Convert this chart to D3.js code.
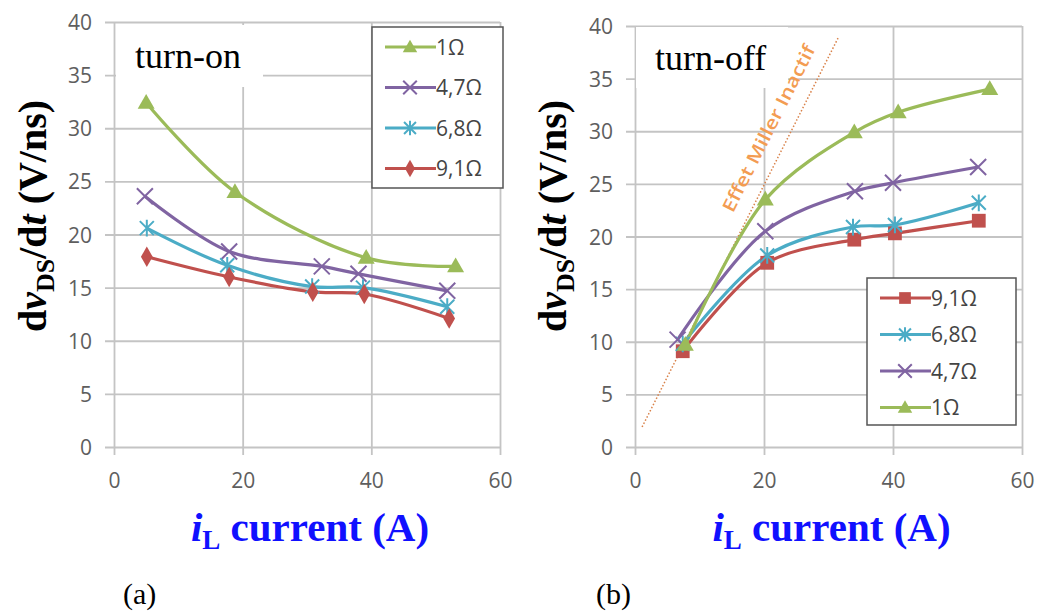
<!DOCTYPE html>
<html>
<head>
<meta charset="utf-8">
<script src="https://cdn.jsdelivr.net/npm/d3@7"></script>
<style>
  body { margin: 0; background: #fff; }
  svg { display: block; }
</style>
</head>
<body>
<svg id="fig" width="1040" height="612"></svg>
<script>
// values: [iL (A), dvDS/dt (V/ns)]
// (a) turn-on
const on1  = [[5.0, 32.4], [18.8, 24.0], [39.2, 17.8], [53.1, 17.0]];
const on47 = [[4.8, 23.6], [17.9, 18.4], [32.3, 17.0], [38.0, 16.3], [51.8, 14.7]];
const on68 = [[5.1, 20.6], [17.6, 17.1], [30.8, 15.1], [38.7, 15.0], [51.8, 13.2]];
const on91 = [[5.1, 17.9], [17.9, 16.0], [30.9, 14.6], [38.9, 14.4], [52.1, 12.1]];
// (b) turn-off
const off1  = [[7.8, 9.7], [20.2, 23.5], [34.0, 29.9], [40.8, 31.8], [55.0, 34.0]];
const off47 = [[6.6, 10.2], [20.2, 20.5], [34.1, 24.3], [40.0, 25.1], [53.2, 26.6]];
const off68 = [[7.4, 9.8], [20.5, 18.2], [33.8, 20.9], [40.3, 21.1], [53.3, 23.2]];
const off91 = [[7.4, 9.1], [20.5, 17.5], [34.0, 19.7], [40.3, 20.3], [53.3, 21.5]];
// dotted "Effet Miller Inactif" guide
const millerLine = [[1.1, 1.9], [31.6, 39.0]];

const xTicks = [0, 20, 40, 60];
const yTicks = [0, 5, 10, 15, 20, 25, 30, 35, 40];
const labels = ['1Ω', '4,7Ω', '6,8Ω', '9,1Ω'];

const colors = {'1Ω': '#9bbb59', '4,7Ω': '#8064a2', '6,8Ω': '#4bacc6', '9,1Ω': '#c0504d'};

const svg = d3.select('#fig');
const tickFont = '"Open Sans", "DejaVu Sans", sans-serif';
const serif = '"Liberation Serif", "Times New Roman", serif';

function drawMarker(g, type, color, cx, cy, k) {
  k = k || 1;
  if (type === 'tri' || type === 'dia' || type === 'sq') {
    const sym = type === 'tri' ? d3.symbolTriangle : type === 'dia' ? d3.symbolDiamond : d3.symbolSquare;
    const size = type === 'tri' ? 125 : type === 'dia' ? 120 : 190;
    g.append('path')
      .attr('d', d3.symbol(sym, size * k * k)())
      .attr('transform', 'translate(' + cx + ',' + (cy + (type === 'tri' ? 1 : 0)) + ')')
      .attr('fill', color);
  } else {
    const r = (type === 'x' ? 8 : 7) * k;
    let d = 'M' + (-r) + ',' + (-r) + 'L' + r + ',' + r + 'M' + (-r) + ',' + r + 'L' + r + ',' + (-r);
    if (type === 'ast') d += 'M0,' + (-r * 1.2) + 'L0,' + (r * 1.2);
    g.append('path')
      .attr('d', d)
      .attr('transform', 'translate(' + cx + ',' + cy + ')')
      .attr('stroke', color)
      .attr('stroke-width', 2)
      .attr('fill', 'none');
  }
}

function drawPanel(cfg) {
  const x = d3.scaleLinear().domain([0, 60]).range([cfg.left, cfg.right]);
  const y = d3.scaleLinear().domain([0, 40]).range([cfg.bottom, cfg.top]);
  const g = svg.append('g');

  // grid + ticks
  g.append('g')
    .attr('transform', 'translate(' + cfg.left + ',0)')
    .call(d3.axisLeft(y).tickValues(yTicks).tickSize(-(cfg.right - cfg.left)).tickSizeOuter(0).tickPadding(0))
    .call(a => a.select('.domain').remove())
    .call(a => a.selectAll('.tick line').attr('x1', -9).attr('stroke', '#c4c4c4').attr('stroke-width', 1.8))
    .call(a => a.selectAll('.tick text')
      .attr('x', -22).attr('dy', '0.36em')
      .attr('font-family', tickFont).attr('font-size', 21).attr('fill', '#5e5e5e'));

  g.append('g')
    .attr('transform', 'translate(0,' + cfg.bottom + ')')
    .call(d3.axisBottom(x).tickValues(xTicks).tickSize(-(cfg.bottom - cfg.top)).tickSizeOuter(0).tickPadding(0))
    .call(a => a.select('.domain').remove())
    .call(a => a.selectAll('.tick line').attr('y1', 8).attr('stroke', '#c4c4c4').attr('stroke-width', 1.8))
    .call(a => a.selectAll('.tick text')
      .attr('y', 41).attr('dy', 0)
      .attr('font-family', tickFont).attr('font-size', 21).attr('fill', '#5e5e5e'));

  // white label box
  g.append('rect')
    .attr('x', cfg.tag.x).attr('y', cfg.tag.y)
    .attr('width', cfg.tag.w).attr('height', cfg.tag.h)
    .attr('fill', '#fff');
  g.append('text')
    .attr('x', cfg.tag.x + 19).attr('y', cfg.tag.y + 43)
    .attr('font-family', serif)
    .attr('font-size', 36)
    .text(cfg.tag.text);

  if (cfg.miller) {
    const p0 = millerLine[0], p1 = millerLine[1];
    g.append('line')
      .attr('x1', x(p0[0])).attr('y1', y(p0[1]))
      .attr('x2', x(p1[0])).attr('y2', y(p1[1]))
      .attr('stroke', '#d9824a').attr('stroke-width', 1.5)
      .attr('stroke-dasharray', '1.5,2');
    const ang = Math.atan2(y(p1[1]) - y(p0[1]), x(p1[0]) - x(p0[0])) * 180 / Math.PI;
    const t = 0.74;
    const mx = x(p0[0]) + t * (x(p1[0]) - x(p0[0]));
    const my = y(p0[1]) + t * (y(p1[1]) - y(p0[1]));
    g.append('text')
      .attr('transform', 'translate(' + mx + ',' + my + ') rotate(' + ang + ')')
      .attr('dy', -15)
      .attr('text-anchor', 'middle')
      .attr('font-family', tickFont)
      .attr('font-size', 18)
      .attr('font-weight', 600)
      .attr('textLength', 184)
      .attr('lengthAdjust', 'spacingAndGlyphs')
      .attr('fill', '#f39c52')
      .text('Effet Miller Inactif');
  }

  // series
  const line = d3.line()
    .x(d => x(d[0]))
    .y(d => y(d[1]))
    .curve(d3.curveCatmullRom.alpha(0.5));

  cfg.series.forEach(s => {
    g.append('path')
      .datum(s.data)
      .attr('d', line)
      .attr('fill', 'none')
      .attr('stroke', colors[s.name])
      .attr('stroke-width', 3.2);
  });
  cfg.series.forEach(s => {
    s.data.forEach(d => drawMarker(g, s.marker, colors[s.name], x(d[0]), y(d[1]), 1));
  });

  // legend
  const lg = cfg.legend;
  g.append('rect')
    .attr('x', lg.x).attr('y', lg.y).attr('width', lg.w).attr('height', lg.h)
    .attr('fill', '#fff').attr('stroke', '#555').attr('stroke-width', 1.5);
  lg.order.forEach((name, i) => {
    const s = cfg.series.find(v => v.name === name);
    const cy = lg.y + lg.first + i * lg.step;
    g.append('line')
      .attr('x1', lg.x + 13).attr('x2', lg.x + 64)
      .attr('y1', cy).attr('y2', cy)
      .attr('stroke', colors[name]).attr('stroke-width', 3.2);
    drawMarker(g, s.marker, colors[name], lg.x + 38, cy, 0.85);
    g.append('text')
      .attr('x', lg.x + 64).attr('y', cy).attr('dy', '0.36em')
      .attr('font-family', tickFont).attr('font-size', 21).attr('fill', '#444')
      .text(name);
  });

  // y title
  const yt = g.append('text')
    .attr('transform', 'translate(' + cfg.yTitleX + ',216) rotate(-90)')
    .attr('text-anchor', 'middle')
    .attr('font-family', serif)
    .attr('font-size', 40)
    .attr('font-weight', 'bold')
    .attr('fill', '#000');
  yt.append('tspan').text('d');
  yt.append('tspan').attr('font-style', 'italic').text('v');
  yt.append('tspan').attr('font-size', 26).attr('dy', 8).text('DS');
  yt.append('tspan').attr('dy', -8).text('/d');
  yt.append('tspan').attr('font-style', 'italic').text('t');
  yt.append('tspan').text(' (V/ns)');

  // x title
  const xt = g.append('text')
    .attr('x', (cfg.left + cfg.right) / 2 + 3).attr('y', 541)
    .attr('text-anchor', 'middle')
    .attr('font-family', serif)
    .attr('font-size', 41)
    .attr('font-weight', 'bold')
    .attr('fill', '#1010ff');
  xt.append('tspan').attr('font-style', 'italic').text('i');
  xt.append('tspan').attr('font-size', 27).attr('dy', 8).text('L');
  xt.append('tspan').attr('dy', -8).text(' current (A)');

  g.append('text')
    .attr('x', cfg.capX).attr('y', 604)
    .attr('font-family', serif)
    .attr('font-size', 30)
    .text(cfg.caption);
}

drawPanel({
  left: 114, right: 500, top: 22, bottom: 447,
  series: [
    {name: '1Ω', data: on1, marker: 'tri'},
    {name: '4,7Ω', data: on47, marker: 'x'},
    {name: '6,8Ω', data: on68, marker: 'ast'},
    {name: '9,1Ω', data: on91, marker: 'dia'}
  ],
  legend: {x: 372, y: 27, w: 131, h: 161, first: 20, step: 40.5, order: labels},
  tag: {x: 116, y: 25, w: 147, h: 62, text: 'turn-on'},
  miller: false,
  yTitleX: 46,
  capX: 123,
  caption: '(a)'
});

drawPanel({
  left: 635, right: 1022, top: 26, bottom: 447,
  series: [
    {name: '9,1Ω', data: off91, marker: 'sq'},
    {name: '6,8Ω', data: off68, marker: 'ast'},
    {name: '4,7Ω', data: off47, marker: 'x'},
    {name: '1Ω', data: off1, marker: 'tri'}
  ],
  legend: {x: 867, y: 278, w: 149, h: 147, first: 20, step: 36.5, order: labels.slice().reverse()},
  tag: {x: 636, y: 27, w: 152, h: 61, text: 'turn-off'},
  miller: true,
  yTitleX: 566,
  capX: 596,
  caption: '(b)'
});
</script>
</body>
</html>
